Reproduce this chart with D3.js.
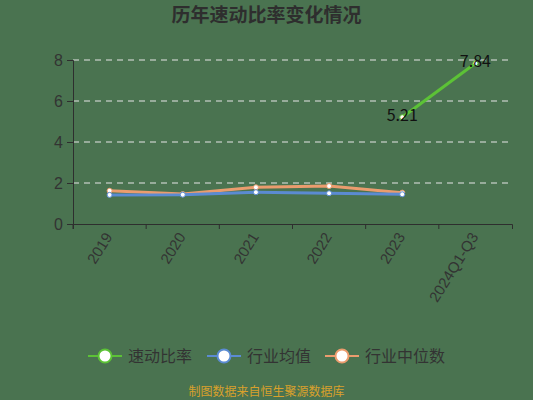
<!DOCTYPE html>
<html>
<head>
<meta charset="utf-8">
<script src="https://cdn.jsdelivr.net/npm/d3@7"></script>
<style>
  body { margin: 0; background: #4a7350; }
  svg { display: block; font-family: "Noto Sans CJK SC", "Noto Sans", sans-serif; }
</style>
</head>
<body>
<div id="chart"></div>
<script>
const categories = ["2019", "2020", "2021", "2022", "2023", "2024Q1-Q3"];
const quickRatio = [null, null, null, null, 5.21, 7.84];
const industryMean = [1.42, 1.43, 1.55, 1.50, 1.45, null];
const industryMedian = [1.62, 1.46, 1.79, 1.85, 1.53, null];
const yTicks = [0, 2, 4, 6, 8];

const series = [
    {name: "速动比率", values: quickRatio, color: "#5cc236", labels: true},
    {name: "行业均值", values: industryMean, color: "#5b8bd2", labels: false},
    {name: "行业中位数", values: industryMedian, color: "#eb9c6e", labels: false}
];

const W = 533, H = 400;
const margin = {top: 60, right: 21, bottom: 176, left: 73};
const width = W - margin.left - margin.right;
const height = H - margin.top - margin.bottom;

const svg = d3.select("#chart").append("svg")
    .attr("width", W)
    .attr("height", H);

svg.append("rect").attr("width", W).attr("height", H).attr("fill", "#4a7350");

svg.append("text")
    .attr("x", W / 2)
    .attr("y", 22)
    .attr("text-anchor", "middle")
    .attr("fill", "#2e2e2e")
    .style("font-size", "19px")
    .style("font-weight", "bold")
    .text("历年速动比率变化情况");

const g = svg.append("g")
    .attr("transform", "translate(" + margin.left + "," + margin.top + ")");

const xScale = d3.scaleBand().domain(categories).range([0, width]);
const yScale = d3.scaleLinear().domain([0, 8]).range([height, 0]);
const xc = d => xScale(d) + xScale.bandwidth() / 2;

// grid lines
g.append("g").selectAll("line")
    .data(yTicks.filter(t => t > 0))
    .join("line")
    .attr("x1", 0).attr("x2", width)
    .attr("y1", d => yScale(d)).attr("y2", d => yScale(d))
    .attr("stroke", "#e6e6e6")
    .attr("stroke-width", 1)
    .attr("stroke-dasharray", "6,5");

// y axis
const yAxisG = g.append("g")
    .call(d3.axisLeft(yScale).tickValues(yTicks).tickSize(6).tickPadding(4));
yAxisG.select(".domain").attr("stroke", "#2e2e2e");
yAxisG.selectAll(".tick line").attr("stroke", "#2e2e2e");
yAxisG.selectAll("text").attr("fill", "#333").style("font-size", "16px");

// x axis
const xAxisG = g.append("g")
    .attr("transform", "translate(0," + height + ")")
    .call(d3.axisBottom(xScale).tickSize(5).tickSizeOuter(5));
xAxisG.select(".domain").attr("stroke", "#2e2e2e");
xAxisG.selectAll(".tick line")
    .attr("stroke", "#2e2e2e")
    .attr("x1", -xScale.bandwidth() / 2)
    .attr("x2", -xScale.bandwidth() / 2);
xAxisG.selectAll("text")
    .attr("fill", "#333")
    .style("font-size", "15px")
    .attr("text-anchor", "end")
    .attr("dy", "0.35em")
    .attr("transform", "translate(-1,10) rotate(-58)")
    .attr("x", 0).attr("y", 0);

// lines
const line = d3.line()
    .defined(d => d.v != null)
    .x(d => xc(d.c))
    .y(d => yScale(d.v));

series.slice().reverse().forEach(s => {
    const pts = categories.map((c, i) => ({c: c, v: s.values[i]}));
    g.append("path")
        .datum(pts)
        .attr("fill", "none")
        .attr("stroke", s.color)
        .attr("stroke-width", 3)
        .attr("d", line);
    g.append("g").selectAll("circle")
        .data(pts.filter(d => d.v != null))
        .join("circle")
        .attr("cx", d => xc(d.c))
        .attr("cy", d => yScale(d.v))
        .attr("r", 2.5)
        .attr("fill", "#fff")
        .attr("stroke", s.color)
        .attr("stroke-width", 1);
    if (s.labels) {
        g.append("g").selectAll("text")
            .data(pts.filter(d => d.v != null))
            .join("text")
            .attr("x", d => xc(d.c))
            .attr("y", d => yScale(d.v) - 2)
            .attr("dy", "0.35em")
            .attr("text-anchor", "middle")
            .attr("fill", "#111")
            .style("font-size", "16px")
            .text(d => d.v.toFixed(2));
    }
});

// legend
const legendX = [88, 207, 325];
const legend = svg.append("g").attr("transform", "translate(0,356)");
series.forEach((s, i) => {
    const lg = legend.append("g").attr("transform", "translate(" + legendX[i] + ",0)");
    lg.append("line")
        .attr("x1", 0).attr("x2", 34)
        .attr("stroke", s.color).attr("stroke-width", 2);
    lg.append("circle")
        .attr("cx", 17).attr("r", 6.5)
        .attr("fill", "#fff")
        .attr("stroke", s.color).attr("stroke-width", 2);
    lg.append("text")
        .attr("x", 40).attr("dy", "0.35em")
        .attr("fill", "#333")
        .style("font-size", "16px")
        .text(s.name);
});

svg.append("text")
    .attr("x", W / 2)
    .attr("y", 392)
    .attr("text-anchor", "middle")
    .attr("dy", "0.35em")
    .attr("fill", "#d9a12c")
    .style("font-size", "12px")
    .text("制图数据来自恒生聚源数据库");
</script>
</body>
</html>
